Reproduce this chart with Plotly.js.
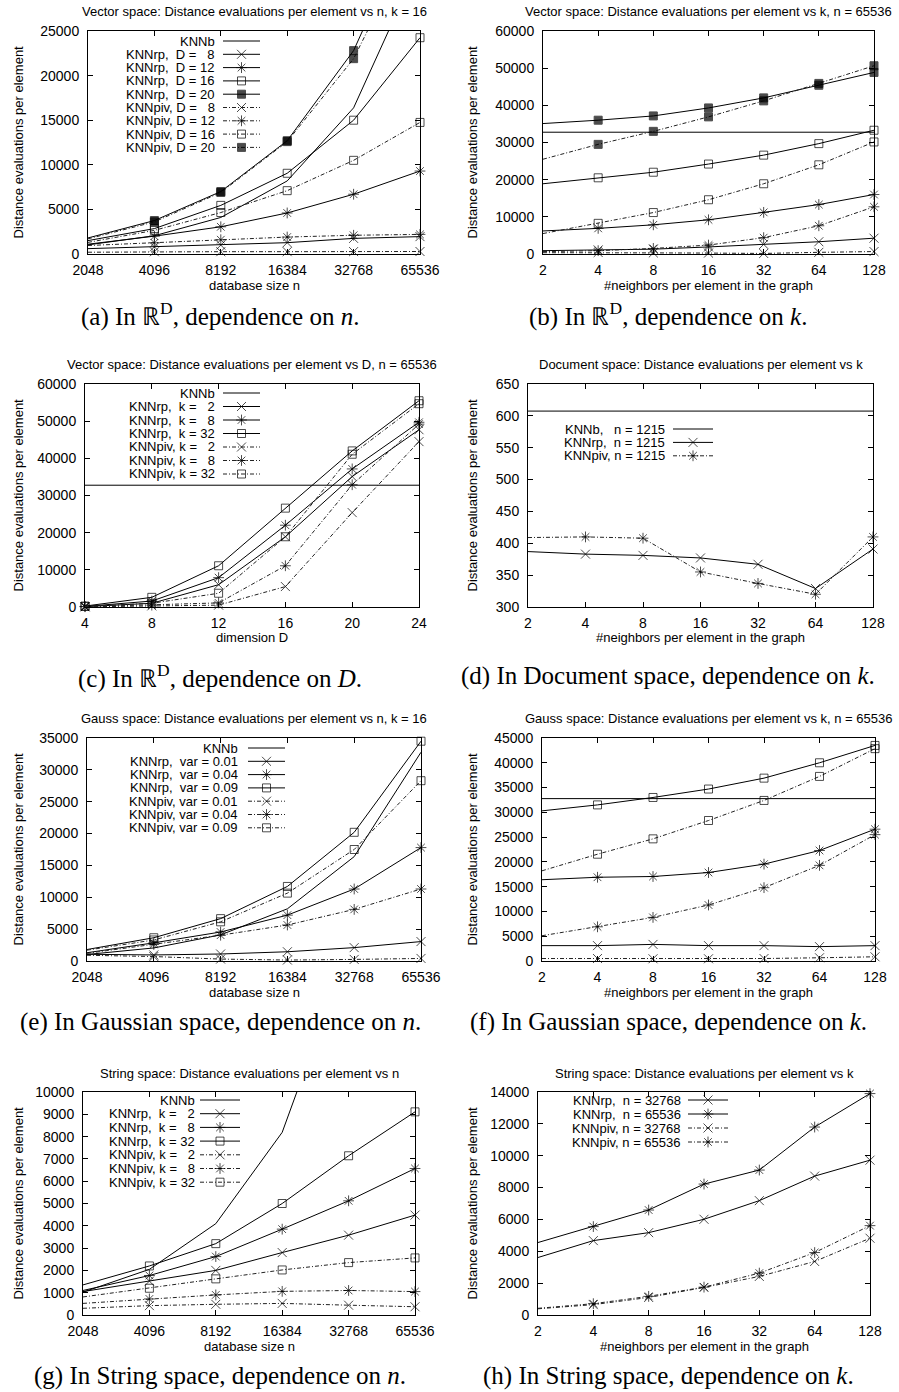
<!DOCTYPE html>
<html><head><meta charset="utf-8">
<script src="https://cdn.plot.ly/plotly-3.0.1.min.js"></script>
<style>body{margin:0;background:#fff}#chart{width:899px;height:1392px}</style>
</head><body><div id="chart"></div>
<script>
// ---------------- data ----------------
const nVals = [2048, 4096, 8192, 16384, 32768, 65536];
const kVals = [2, 4, 8, 16, 32, 64, 128];
const dVals = [4, 8, 12, 16, 20, 24];

// (a) vector space vs n, k = 16
const a_knnb    = [1024, 2048, 4096, 8192, 16384, 32768];
const a_rp_D8   = [600, 800, 1000, 1270, 1750, 1950];
const a_rp_D12  = [1100, 2000, 3050, 4600, 6700, 9300];
const a_rp_D16  = [1500, 2850, 5450, 9050, 15000, 24250];
const a_rp_D20  = [1800, 3750, 7000, 12700, 22800, 39300];
const a_piv_D8  = [200, 250, 260, 260, 270, 280];
const a_piv_D12 = [950, 1250, 1600, 1900, 2100, 2200];
const a_piv_D16 = [1300, 2650, 4650, 7100, 10500, 14750];
const a_piv_D20 = [1700, 3600, 6900, 12600, 21900, 36800];

// (b) vector space vs k, n = 65536
const b_knnb    = [32768, 32768, 32768, 32768, 32768, 32768, 32768];
const b_rp_D8   = [900, 1100, 1300, 1900, 2600, 3300, 4250];
const b_rp_D12  = [6200, 6900, 7850, 9200, 11200, 13300, 16000];
const b_rp_D16  = [18900, 20500, 22000, 24200, 26600, 29700, 33300];
const b_rp_D20  = [35100, 36000, 37150, 39300, 42000, 45400, 48850];
const b_piv_D8  = [350, 400, 300, 250, 150, 450, 650];
const b_piv_D12 = [650, 900, 1500, 2400, 4400, 7600, 12700];
const b_piv_D16 = [5500, 8250, 11150, 14600, 18900, 24000, 30150];
const b_piv_D20 = [25500, 29500, 33000, 36900, 41200, 45900, 50650];

// (c) vector space vs D, n = 65536
const c_knnb    = [32768, 32768, 32768, 32768, 32768, 32768];
const c_rp_k2   = [100, 1000, 6000, 18900, 35100, 47700];
const c_rp_k8   = [150, 1600, 7900, 22000, 37150, 49700];
const c_rp_k32  = [250, 2600, 11100, 26600, 42000, 55500];
const c_piv_k2  = [50, 300, 500, 5500, 25400, 44500];
const c_piv_k8  = [80, 500, 1100, 11100, 32900, 49200];
const c_piv_k32 = [150, 1000, 3700, 18900, 41100, 54700];

// (d) document space vs k
const d_knnb = [607.5, 607.5, 607.5, 607.5, 607.5, 607.5, 607.5];
const d_rp   = [387, 383, 381, 377, 367, 329, 391];
const d_piv  = [409, 410, 408, 355, 337, 320, 410];

// (e) gauss space vs n, k = 16
const e_knnb     = [1024, 2048, 4096, 8192, 16384, 32768];
const e_rp_v01   = [1050, 950, 1100, 1450, 2100, 3050];
const e_rp_v04   = [1300, 2850, 4550, 7200, 11300, 17800];
const e_rp_v09   = [1800, 3650, 6650, 11700, 20200, 34500];
const e_piv_v01  = [900, 700, 300, 150, 250, 400];
const e_piv_v04  = [1200, 2600, 4050, 5650, 8100, 11300];
const e_piv_v09  = [1700, 3300, 6150, 10650, 17500, 28300];

// (f) gauss space vs k, n = 65536
const f_knnb     = [32768, 32768, 32768, 32768, 32768, 32768, 32768];
const f_rp_v01   = [3100, 3100, 3350, 3100, 3100, 2900, 3100];
const f_rp_v04   = [16400, 16900, 17050, 17850, 19550, 22300, 26600];
const f_rp_v09   = [30300, 31500, 33000, 34700, 36900, 40000, 43500];
const f_piv_v01  = [500, 500, 450, 450, 500, 650, 850];
const f_piv_v04  = [5100, 6900, 8800, 11300, 14800, 19300, 25500];
const f_piv_v09  = [18200, 21550, 24650, 28350, 32400, 37250, 42850];

// (g) string space vs n
const g_knnb    = [1024, 2048, 4096, 8192, 16384, 32768];
const g_rp_k2   = [1050, 1520, 2000, 2800, 3580, 4480];
const g_rp_k8   = [1100, 1770, 2620, 3850, 5120, 6570];
const g_rp_k32  = [1350, 2200, 3200, 5000, 7140, 9110];
const g_piv_k2  = [300, 420, 480, 520, 440, 370];
const g_piv_k8  = [520, 720, 900, 1060, 1100, 1050];
const g_piv_k32 = [810, 1200, 1620, 2020, 2350, 2560];

// (h) string space vs k
const h_rp_n32k  = [3610, 4670, 5170, 6010, 7180, 8720, 9720];
const h_rp_n64k  = [4550, 5550, 6590, 8220, 9100, 11800, 13900];
const h_piv_n32k = [390, 650, 1100, 1730, 2420, 3360, 4820];
const h_piv_n64k = [420, 710, 1170, 1750, 2630, 3920, 5610];

// ---------------- styling / layout config ----------------
const W = 899, H = 1392;
const SANS = 'Liberation Sans, Arial, Helvetica, sans-serif';
const SERIF = 'Liberation Serif, Times New Roman, serif';
const SYM = {x: 'x-thin-open', ast: 'asterisk-open', sq: 'square-open', fsq: 'square'};
const SIZE = {x: 9, ast: 9, sq: 8, fsq: 8};
const DASH = '4px,2px,1px,2px';
const YT = 'Distance evaluations per element';
const XK = '#neighbors per element in the graph';

const panels = [
  {box: [88, 420, 31, 254], xType: 'log', xs: nVals, yRange: [0, 25000], dtick: 5000,
   title: 'Vector space: Distance evaluations per element vs n, k = 16', xTitle: 'database size n',
   caption: '(a) In ℝ<sup>D</sup>, dependence on <i>n</i>.', capX: 220, capY: 315, yTitleX: 18,
   legend: {tx: 217, s0: 223, s1: 260, y0: 41, dy: 13.3},
   series: [
     ['KNNb', a_knnb, 'b', null], ['KNNrp,  D =   8', a_rp_D8, 'rp', 'x'], ['KNNrp,  D = 12', a_rp_D12, 'rp', 'ast'],
     ['KNNrp,  D = 16', a_rp_D16, 'rp', 'sq'], ['KNNrp,  D = 20', a_rp_D20, 'rp', 'fsq'],
     ['KNNpiv, D =   8', a_piv_D8, 'piv', 'x'], ['KNNpiv, D = 12', a_piv_D12, 'piv', 'ast'],
     ['KNNpiv, D = 16', a_piv_D16, 'piv', 'sq'], ['KNNpiv, D = 20', a_piv_D20, 'piv', 'fsq']]},
  {box: [543, 874, 31, 254], xType: 'log', xs: kVals, yRange: [0, 60000], dtick: 10000,
   title: 'Vector space: Distance evaluations per element vs k, n = 65536', xTitle: XK,
   caption: '(b) In ℝ<sup>D</sup>, dependence on <i>k</i>.', capX: 668, capY: 315, yTitleX: 472,
   series: [
     ['KNNb', b_knnb, 'b', null], ['rp8', b_rp_D8, 'rp', 'x'], ['rp12', b_rp_D12, 'rp', 'ast'],
     ['rp16', b_rp_D16, 'rp', 'sq'], ['rp20', b_rp_D20, 'rp', 'fsq'],
     ['piv8', b_piv_D8, 'piv', 'x'], ['piv12', b_piv_D12, 'piv', 'ast'],
     ['piv16', b_piv_D16, 'piv', 'sq'], ['piv20', b_piv_D20, 'piv', 'fsq']]},
  {box: [85, 419, 384, 607], xType: 'linear', xs: dVals, yRange: [0, 60000], dtick: 10000,
   title: 'Vector space: Distance evaluations per element vs D, n = 65536', xTitle: 'dimension D',
   caption: '(c) In ℝ<sup>D</sup>, dependence on <i>D</i>.', capX: 220, capY: 676, yTitleX: 18,
   legend: {tx: 217, s0: 223, s1: 260, y0: 393, dy: 13.5},
   series: [
     ['KNNb', c_knnb, 'b', null], ['KNNrp,  k =   2', c_rp_k2, 'rp', 'x'], ['KNNrp,  k =   8', c_rp_k8, 'rp', 'ast'],
     ['KNNrp,  k = 32', c_rp_k32, 'rp', 'sq'], ['KNNpiv, k =   2', c_piv_k2, 'piv', 'x'],
     ['KNNpiv, k =   8', c_piv_k8, 'piv', 'ast'], ['KNNpiv, k = 32', c_piv_k32, 'piv', 'sq']]},
  {box: [528, 873, 384, 607], xType: 'log', xs: kVals, yRange: [300, 650], dtick: 50,
   title: 'Document space: Distance evaluations per element vs k', xTitle: XK,
   caption: '(d) In Document space, dependence on <i>k</i>.', capX: 668, capY: 676, yTitleX: 472,
   legend: {tx: 667, s0: 673, s1: 713, y0: 429, dy: 13.4},
   series: [
     ['KNNb,   n = 1215', d_knnb, 'b', null], ['KNNrp,  n = 1215', d_rp, 'rp', 'x'], ['KNNpiv, n = 1215', d_piv, 'piv', 'ast']]},
  {box: [87, 421, 738, 961], xType: 'log', xs: nVals, yRange: [0, 35000], dtick: 5000,
   title: 'Gauss space: Distance evaluations per element vs n, k = 16', xTitle: 'database size n',
   caption: '(e) In Gaussian space, dependence on <i>n</i>.', capX: 220, capY: 1022, yTitleX: 18,
   legend: {tx: 240, s0: 248, s1: 285, y0: 748, dy: 13.3},
   series: [
     ['KNNb', e_knnb, 'b', null], ['KNNrp,  var = 0.01', e_rp_v01, 'rp', 'x'], ['KNNrp,  var = 0.04', e_rp_v04, 'rp', 'ast'],
     ['KNNrp,  var = 0.09', e_rp_v09, 'rp', 'sq'], ['KNNpiv, var = 0.01', e_piv_v01, 'piv', 'x'],
     ['KNNpiv, var = 0.04', e_piv_v04, 'piv', 'ast'], ['KNNpiv, var = 0.09', e_piv_v09, 'piv', 'sq']]},
  {box: [542, 875, 738, 961], xType: 'log', xs: kVals, yRange: [0, 45000], dtick: 5000,
   title: 'Gauss space: Distance evaluations per element vs k, n = 65536', xTitle: XK,
   caption: '(f) In Gaussian space, dependence on <i>k</i>.', capX: 668, capY: 1022, yTitleX: 472,
   series: [
     ['KNNb', f_knnb, 'b', null], ['rp01', f_rp_v01, 'rp', 'x'], ['rp04', f_rp_v04, 'rp', 'ast'],
     ['rp09', f_rp_v09, 'rp', 'sq'], ['piv01', f_piv_v01, 'piv', 'x'],
     ['piv04', f_piv_v04, 'piv', 'ast'], ['piv09', f_piv_v09, 'piv', 'sq']]},
  {box: [83, 415, 1092, 1315], xType: 'log', xs: nVals, yRange: [0, 10000], dtick: 1000,
   title: 'String space: Distance evaluations per element vs n', xTitle: 'database size n',
   caption: '(g) In String space, dependence on <i>n</i>.', capX: 220, capY: 1376, yTitleX: 18,
   legend: {tx: 197, s0: 200, s1: 240, y0: 1100, dy: 13.7},
   series: [
     ['KNNb', g_knnb, 'b', null], ['KNNrp,  k =   2', g_rp_k2, 'rp', 'x'], ['KNNrp,  k =   8', g_rp_k8, 'rp', 'ast'],
     ['KNNrp,  k = 32', g_rp_k32, 'rp', 'sq'], ['KNNpiv, k =   2', g_piv_k2, 'piv', 'x'],
     ['KNNpiv, k =   8', g_piv_k8, 'piv', 'ast'], ['KNNpiv, k = 32', g_piv_k32, 'piv', 'sq']]},
  {box: [538, 870, 1092, 1315], xType: 'log', xs: kVals, yRange: [0, 14000], dtick: 2000,
   title: 'String space: Distance evaluations per element vs k', xTitle: XK,
   caption: '(h) In String space, dependence on <i>k</i>.', capX: 668, capY: 1376, yTitleX: 472,
   legend: {tx: 683, s0: 688, s1: 728, y0: 1100, dy: 14},
   series: [
     ['KNNrp,  n = 32768', h_rp_n32k, 'rp', 'x'], ['KNNrp,  n = 65536', h_rp_n64k, 'rp', 'ast'],
     ['KNNpiv, n = 32768', h_piv_n32k, 'piv', 'x'], ['KNNpiv, n = 65536', h_piv_n64k, 'piv', 'ast']]}
];

// ---------------- build figure ----------------
const traces = [];
const layout = {
  width: W, height: H, margin: {l: 0, r: 0, t: 0, b: 0},
  paper_bgcolor: '#fff', plot_bgcolor: 'rgba(0,0,0,0)', showlegend: false,
  font: {family: SANS, color: '#000', size: 13}, annotations: []
};
const px = v => v / W, py = v => 1 - v / H;
function lineStyle(kind) {
  return kind === 'piv' ? {color: '#222', width: 1, dash: DASH} : {color: '#000', width: 1, dash: 'solid'};
}
function ann(text, x, y, opts) {
  layout.annotations.push(Object.assign({text, x: px(x), y: py(y), xref: 'paper', yref: 'paper',
    showarrow: false, xanchor: 'center', yanchor: 'middle', font: {family: SANS, size: 13, color: '#000'}}, opts || {}));
}

panels.forEach((p, i) => {
  const n = i + 1, xid = 'x' + (n === 1 ? '' : n), yid = 'y' + (n === 1 ? '' : n);
  const isLog = p.xType === 'log';
  const lo = p.xs[0], hi = p.xs[p.xs.length - 1];
  layout['xaxis' + (n === 1 ? '' : n)] = {
    domain: [px(p.box[0]), px(p.box[1])], anchor: yid, type: p.xType,
    range: isLog ? [Math.log10(lo), Math.log10(hi)] : [lo, hi],
    tickmode: 'array', tickvals: p.xs, ticktext: p.xs.map(String),
    showline: true, mirror: 'allticks', linecolor: '#000', linewidth: 1,
    ticks: 'inside', ticklen: 5, tickcolor: '#000', tickwidth: 1,
    showgrid: false, zeroline: false, fixedrange: true, ticklabelstandoff: 3,
    tickfont: {family: SANS, size: 14, color: '#000'}
  };
  layout['yaxis' + (n === 1 ? '' : n)] = {
    domain: [py(p.box[3]), py(p.box[2])], anchor: xid, range: p.yRange,
    tick0: p.yRange[0], dtick: p.dtick, tickformat: 'd',
    showline: true, mirror: 'allticks', linecolor: '#000', linewidth: 1,
    ticks: 'inside', ticklen: 5, tickcolor: '#000', tickwidth: 1,
    showgrid: false, zeroline: false, fixedrange: true, ticklabelstandoff: 5,
    tickfont: {family: SANS, size: 14, color: '#000'}
  };
  const ymax = p.yRange[1];
  p.series.forEach(s => {
    const [name, ys, kind, sym] = s;
    const t = {type: 'scatter', x: p.xs, y: ys, xaxis: xid, yaxis: yid, name,
      mode: sym ? 'lines+markers' : 'lines', line: lineStyle(kind),
      hoverinfo: 'skip', showlegend: false, cliponaxis: !sym};
    if (sym) t.marker = {symbol: SYM[sym], size: ys.map(v => v > ymax ? 0 : SIZE[sym]),
      color: '#000', line: {color: '#000', width: 1}};
    traces.push(t);
  });
  // texts
  const cx = (p.box[0] + p.box[1]) / 2, cy = (p.box[2] + p.box[3]) / 2;
  ann(p.title, cx, p.box[2] - 19);
  ann(p.xTitle, cx, p.box[3] + 31);
  ann(YT, p.yTitleX, cy, {textangle: -90});
  ann(p.caption, p.capX, p.capY, {font: {family: SERIF, size: 25, color: '#000'}});
  // key (gnuplot style: right-justified text, then sample)
  if (p.legend) {
    const L = p.legend;
    p.series.forEach((s, j) => {
      const [name, , kind, sym] = s;
      const y = L.y0 + j * L.dy;
      ann(name.replace(/ /g, '\u00a0'), L.tx, y, {xanchor: 'right'});
      const t = {type: 'scatter', x: [L.s0, (L.s0 + L.s1) / 2, L.s1], y: [y, y, y], xaxis: 'x9', yaxis: 'y9',
        mode: sym ? 'lines+markers' : 'lines', line: lineStyle(kind), hoverinfo: 'skip', showlegend: false,
        cliponaxis: false};
      if (sym) t.marker = {symbol: SYM[sym], size: [0, SIZE[sym], 0], color: '#000', line: {color: '#000', width: 1}};
      traces.push(t);
    });
  }
});
layout.xaxis9 = {domain: [0, 1], range: [0, W], visible: false, anchor: 'y9', fixedrange: true};
layout.yaxis9 = {domain: [0, 1], range: [H, 0], visible: false, anchor: 'x9', fixedrange: true};

Plotly.newPlot('chart', traces, layout, {staticPlot: true, displayModeBar: false});
</script></body></html>
